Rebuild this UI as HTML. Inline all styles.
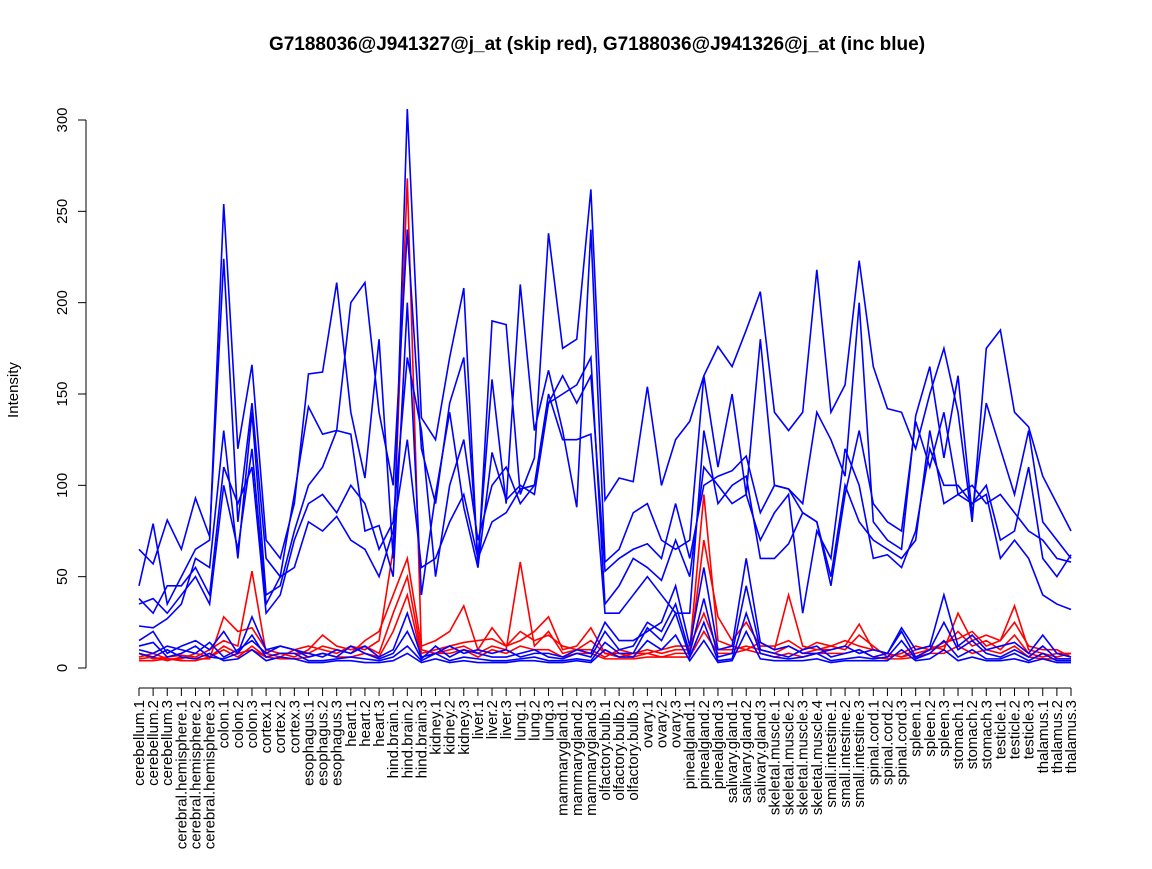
<!DOCTYPE html>
<html><head><meta charset="utf-8"><style>
body{margin:0;background:#fff;}
svg text{font-family:"Liberation Sans",sans-serif;}
</style></head><body>
<svg id="chart" width="1152" height="864" xmlns="http://www.w3.org/2000/svg">
<rect width="1152" height="864" fill="#fff"/>
<text x="597" y="50" font-size="19" font-weight="bold" text-anchor="middle">G7188036@J941327@j_at (skip red), G7188036@J941326@j_at (inc blue)</text>
<text transform="translate(18,390) rotate(-90)" font-size="15" text-anchor="middle">Intensity</text>
<g id="axes"></g><g id="series"></g>
</svg>
<script>
const categories=["cerebellum.1","cerebellum.2","cerebellum.3","cerebral.hemisphere.1","cerebral.hemisphere.2","cerebral.hemisphere.3","colon.1","colon.2","colon.3","cortex.1","cortex.2","cortex.3","esophagus.1","esophagus.2","esophagus.3","heart.1","heart.2","heart.3","hind.brain.1","hind.brain.2","hind.brain.3","kidney.1","kidney.2","kidney.3","liver.1","liver.2","liver.3","lung.1","lung.2","lung.3","mammarygland.1","mammarygland.2","mammarygland.3","olfactory.bulb.1","olfactory.bulb.2","olfactory.bulb.3","ovary.1","ovary.2","ovary.3","pinealgland.1","pinealgland.2","pinealgland.3","salivary.gland.1","salivary.gland.2","salivary.gland.3","skeletal.muscle.1","skeletal.muscle.2","skeletal.muscle.3","skeletal.muscle.4","small.intestine.1","small.intestine.2","small.intestine.3","spinal.cord.1","spinal.cord.2","spinal.cord.3","spleen.1","spleen.2","spleen.3","stomach.1","stomach.2","stomach.3","testicle.1","testicle.2","testicle.3","thalamus.1","thalamus.2","thalamus.3"];
const yTicks=[0,50,100,150,200,250,300];
const blueA=[45,79,35,50,65,70,254,120,166,70,60,90,161,162,211,140,104,180,60,306,137,125,170,208,55,190,188,95,115,238,175,180,262,92,104,102,154,100,125,135,160,176,165,185,206,140,130,140,218,140,155,223,165,142,140,120,150,175,140,80,175,185,140,132,105,90,75];
const blueB=[65,57,81,65,93,72,224,80,145,60,50,95,143,128,130,200,211,140,100,240,120,90,145,170,60,158,90,210,130,163,130,88,240,58,65,85,90,70,65,70,160,110,150,95,180,100,98,90,140,125,105,200,80,70,65,138,165,115,160,84,145,120,95,130,80,70,60];
const blueC=[23,22,27,35,60,55,130,60,140,40,45,75,100,110,130,128,75,78,50,200,40,95,140,88,55,118,92,100,95,145,160,145,160,53,60,65,68,60,90,60,100,105,108,116,85,100,98,85,80,45,95,130,90,80,75,135,110,140,95,100,90,95,85,75,70,60,58];
const blueD=[38,30,45,45,55,40,110,90,110,30,40,70,90,95,85,100,90,65,80,170,130,50,100,125,70,100,110,90,100,145,150,155,170,35,45,60,55,48,70,50,110,100,90,95,70,85,95,30,75,60,120,100,60,62,55,75,120,100,100,90,100,70,75,110,60,50,62];
const blueE=[35,38,30,40,50,35,100,65,120,35,50,55,80,75,83,70,65,50,75,125,55,60,80,95,60,80,85,98,100,150,125,125,128,30,30,40,50,40,30,30,130,90,100,105,60,60,68,85,80,50,100,80,70,65,60,70,130,90,95,90,95,60,70,60,40,35,32];
const blueF=[15,20,8,12,15,10,20,8,28,10,12,10,8,6,10,8,12,6,10,30,6,8,12,8,10,8,10,6,8,8,6,10,8,25,15,15,20,25,45,12,55,10,12,60,14,10,12,8,8,10,12,8,10,8,22,10,12,40,12,18,10,12,14,8,18,8,6];
const blueG=[10,8,12,10,8,14,6,10,15,8,12,10,6,8,6,12,8,5,8,20,5,12,6,10,8,6,6,8,10,6,5,8,6,20,10,12,25,20,35,8,38,6,8,45,10,8,6,10,12,6,8,10,6,8,20,6,10,25,10,15,8,6,10,6,12,5,5];
const blueH=[12,14,6,8,12,6,5,8,18,6,8,8,4,4,5,6,5,4,6,12,4,8,4,6,5,4,4,5,6,4,4,5,4,14,8,8,22,15,30,6,25,4,5,30,8,6,5,6,8,4,5,6,5,6,15,5,8,15,6,10,5,5,8,4,8,4,4];
const blueI=[8,6,10,6,5,8,4,5,10,4,6,5,3,3,4,4,3,3,4,8,3,5,3,4,3,3,3,4,4,3,3,4,3,10,6,6,15,10,18,4,15,3,4,20,5,4,4,4,5,3,4,4,4,4,10,4,5,10,4,6,4,4,5,3,5,3,3];
const redA=[8,5,6,7,6,10,15,12,53,8,6,10,12,10,8,12,10,15,65,268,10,8,10,12,8,12,10,58,12,20,8,10,15,8,6,8,10,8,10,10,95,15,12,10,14,10,40,12,10,10,12,24,10,8,6,10,12,10,30,15,18,15,34,10,8,6,8];
const redB=[6,8,5,5,8,6,10,6,12,6,8,8,8,12,10,8,15,20,40,60,12,15,20,34,10,22,12,15,20,28,10,12,22,8,8,6,8,6,8,8,70,28,15,25,12,12,15,10,14,12,10,18,12,6,8,12,10,14,16,20,12,15,25,12,10,10,6];
const redC=[5,6,4,6,5,5,28,20,22,10,8,6,10,18,12,10,12,8,30,50,8,10,12,14,15,16,12,20,15,18,12,10,10,6,10,8,8,10,12,12,30,10,10,12,10,8,12,8,10,12,15,12,10,8,6,8,10,12,20,12,15,10,18,8,6,8,8];
const redD=[4,4,5,4,4,6,12,8,10,6,5,5,6,8,6,6,8,6,20,40,6,8,8,10,6,10,8,12,10,10,6,8,8,5,5,5,6,6,6,6,20,8,8,10,8,6,8,6,8,8,8,10,6,5,5,6,8,8,12,8,10,8,12,6,5,5,5];
const x0=139,dx=(1071-139)/(categories.length-1);
const xs=i=>x0+i*dx, ys=v=>668-v*548/300;
const NS="http://www.w3.org/2000/svg";
const axes=document.getElementById('axes'), ser=document.getElementById('series');
function mk(t,a,p){const e=document.createElementNS(NS,t);for(const k in a)e.setAttribute(k,a[k]);p.appendChild(e);return e;}
const ya=mk('line',{x1:86,x2:86,y1:ys(300),y2:ys(0),stroke:'#000'},axes);


yTicks.forEach(v=>{
  mk('line',{x1:78,x2:86,y1:ys(v),y2:ys(v),stroke:'#000'},axes);
  const t=mk('text',{transform:`translate(67,${ys(v)}) rotate(-90)`,'font-size':15,'text-anchor':'middle'},axes);
  t.textContent=v;
  
  
});
const xa=mk('line',{x1:xs(0),x2:xs(categories.length-1),y1:688,y2:688,stroke:'#000'},axes);


categories.forEach((c,i)=>{
  mk('line',{x1:xs(i),x2:xs(i),y1:688,y2:696,stroke:'#000'},axes);
  const t=mk('text',{transform:`translate(${xs(i)+5},700) rotate(-90)`,'font-size':15,'text-anchor':'end'},axes);
  t.textContent=c;
  
  
});
const all=[[redA,'red'],[redB,'red'],[redC,'red'],[redD,'red'],[blueA,'blue'],[blueB,'blue'],[blueC,'blue'],[blueD,'blue'],[blueE,'blue'],[blueF,'blue'],[blueG,'blue'],[blueH,'blue'],[blueI,'blue']];
all.forEach(([d,c])=>{
  const p=mk('polyline',{points:d.map((v,i)=>xs(i)+','+ys(v)).join(' '),fill:'none',stroke:c,'stroke-width':1.6},ser);
  
  
});
</script>
</body></html>
